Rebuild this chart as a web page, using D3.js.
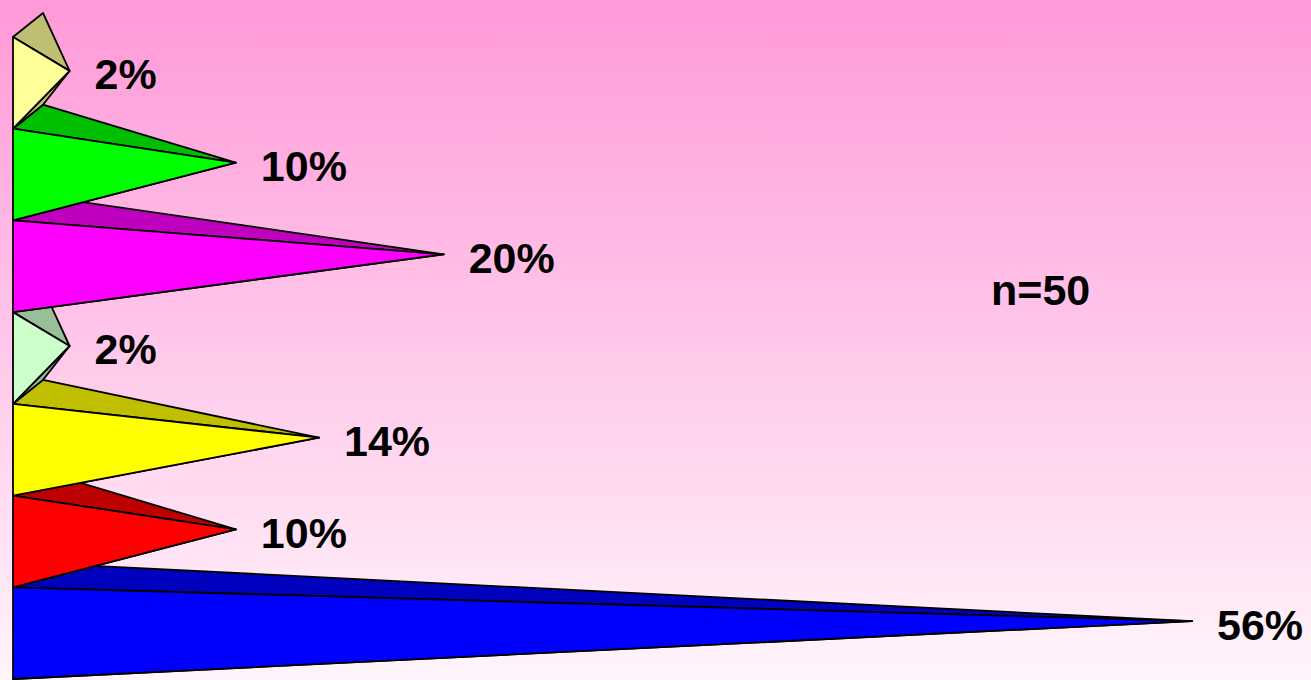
<!DOCTYPE html>
<html>
<head>
<meta charset="utf-8">
<script src="https://cdn.jsdelivr.net/npm/d3@7"></script>
<style>
html,body{margin:0;padding:0;overflow:hidden;}
svg{display:block;}
</style>
</head>
<body>
<svg id="chart" width="1311" height="680"></svg>
<script>
// Data (top to bottom)
const categories = ["c1", "c2", "c3", "c4", "c5", "c6", "c7"];
const values = [2, 10, 20, 2, 14, 10, 56];
const labels = ["2%", "10%", "20%", "2%", "14%", "10%", "56%"];
const frontColors = ["#FFFF99", "#00FF00", "#FF00FF", "#CCFFCC", "#FFFF00", "#FF0000", "#0000FF"];
const sampleNote = "n=50";

const W = 1311, H = 680;
const svg = d3.select("#chart");

// background gradient
const defs = svg.append("defs");
const grad = defs.append("linearGradient").attr("id", "bg").attr("x1", 0).attr("y1", 0).attr("x2", 0).attr("y2", 1);
grad.append("stop").attr("offset", "0%").attr("stop-color", "#FF99D8");
grad.append("stop").attr("offset", "100%").attr("stop-color", "#FFF5FB");
svg.append("rect").attr("width", W).attr("height", H).attr("fill", "url(#bg)");

const x0 = 13;
const x = d3.scaleLinear().domain([0, 56]).range([x0, x0 + 1164]);
const y = d3.scaleBand().domain(categories).range([37, 679]).padding(0);
const dx = 30, dy = -24;

const data = categories.map((c, i) => ({ c, v: values[i], label: labels[i], color: frontColors[i] }));
const darker = col => { const r = d3.rgb(col); return d3.rgb(r.r * 0.75, r.g * 0.75, r.b * 0.75).formatHex(); };

const g = svg.append("g");
// draw bottom category first so upper pyramids overlap lower ones
const order = data.slice().reverse();
order.forEach(d => {
  const t = y(d.c), b = y(d.c) + y.bandwidth();
  const ax = x(d.v) + dx / 2, ay = (t + b) / 2 + dy / 2;
  const dark = darker(d.color);
  const line = pts => "M" + pts.map(p => p.join(",")).join("L") + "Z";
  const sw = 1.8;
  // bottom face
  g.append("path").attr("d", line([[x0, b], [x0 + dx, b + dy], [ax, ay]]))
    .attr("fill", dark).attr("stroke", "#000").attr("stroke-width", sw).attr("stroke-linejoin", "round");
  // top face
  g.append("path").attr("d", line([[x0, t], [x0 + dx, t + dy], [ax, ay]]))
    .attr("fill", dark).attr("stroke", "#000").attr("stroke-width", sw).attr("stroke-linejoin", "round");
  // front face
  g.append("path").attr("d", line([[x0, t], [x0, b], [ax, ay]]))
    .attr("fill", d.color).attr("stroke", "#000").attr("stroke-width", sw).attr("stroke-linejoin", "round");
});

// labels
svg.append("g").selectAll("text").data(data).join("text")
  .attr("x", d => x(d.v) + dx / 2 + 25)
  .attr("y", d => y(d.c) + y.bandwidth() / 2 + dy / 2 + 3)
  .attr("dy", "0.36em")
  .attr("font-family", "'Liberation Sans', Arial, sans-serif")
  .attr("font-weight", "bold")
  .attr("font-size", 43)
  .attr("fill", "#000")
  .text(d => d.label);

svg.append("text")
  .attr("x", 991).attr("y", 305)
  .attr("font-family", "'Liberation Sans', Arial, sans-serif")
  .attr("font-weight", "bold")
  .attr("font-size", 43)
  .attr("fill", "#000")
  .text(sampleNote);
</script>
</body>
</html>
